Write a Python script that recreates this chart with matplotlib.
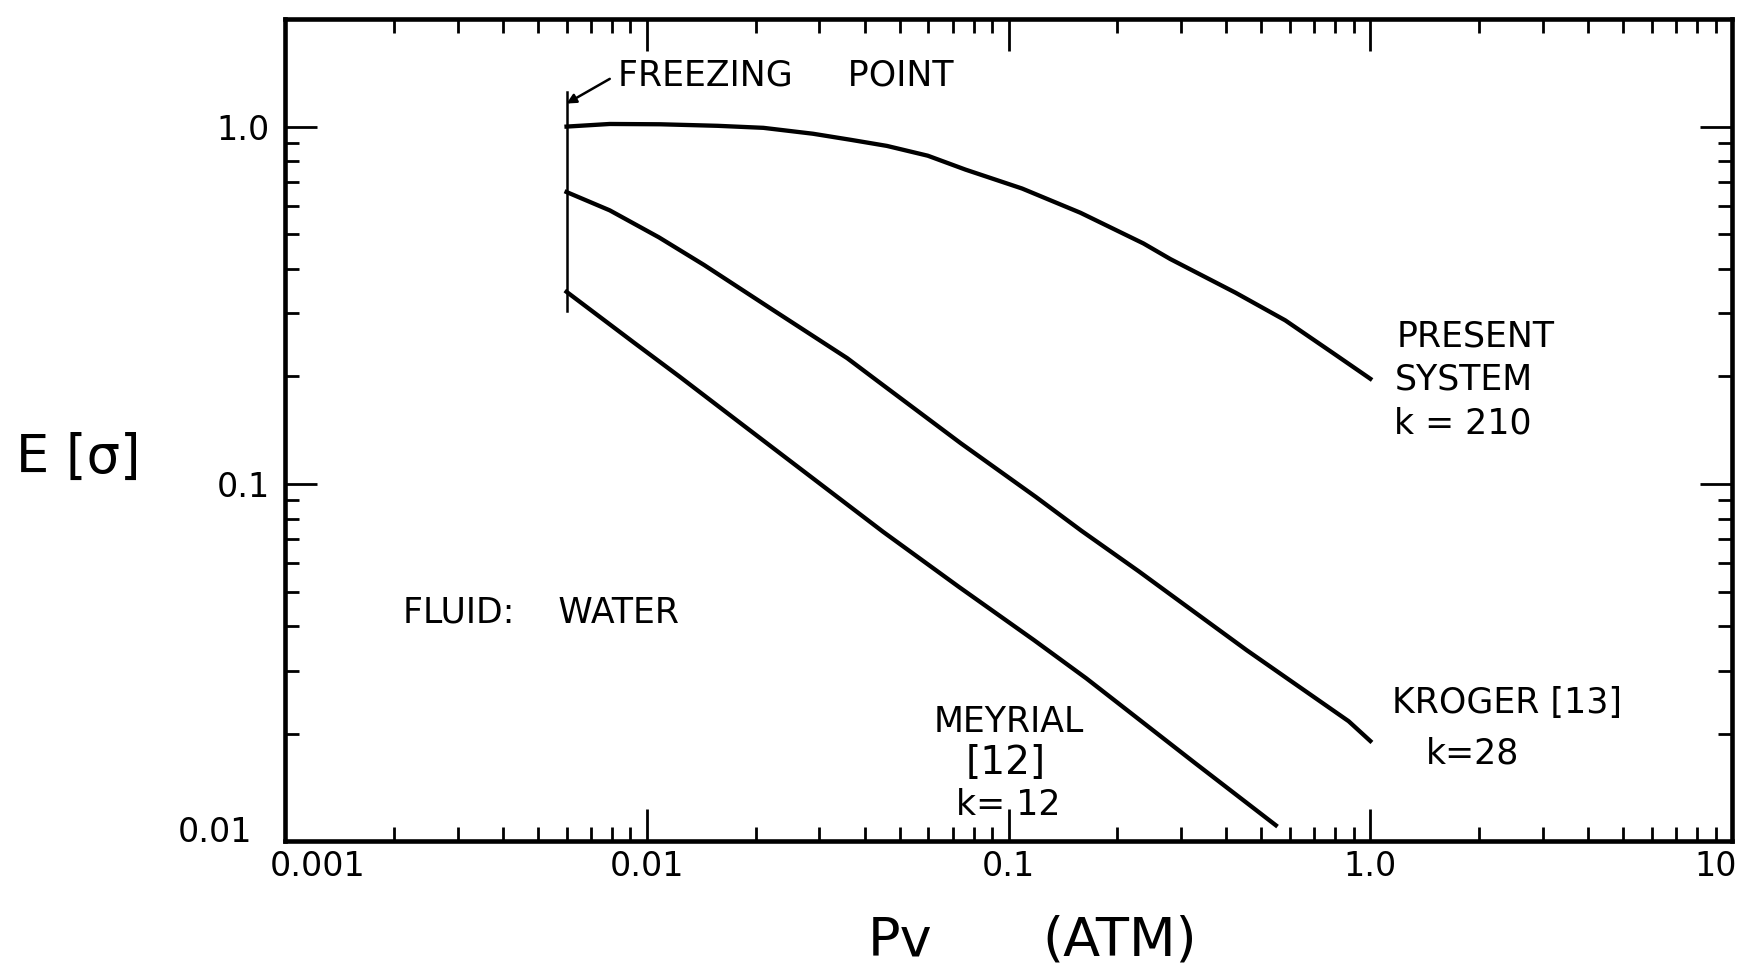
import matplotlib.pyplot as plt
from matplotlib.transforms import ScaledTranslation

# vapour pressure Pv (atm) and E along each curve
pv_present = [0.006, 0.0079, 0.0109, 0.0157, 0.021, 0.0288, 0.0367, 0.0461, 0.0598, 0.076,
              0.109, 0.158, 0.236, 0.28, 0.424, 0.582, 0.796, 1.0]
e_present = [1.0, 1.017, 1.015, 1.005, 0.992, 0.955, 0.918, 0.883, 0.829, 0.758,
             0.671, 0.574, 0.471, 0.426, 0.343, 0.287, 0.231, 0.197]

pv_kroger = [0.006, 0.0079, 0.0108, 0.0144, 0.0222, 0.0358, 0.0435, 0.0738, 0.119, 0.159,
             0.229, 0.298, 0.455, 0.871, 1.0]
e_kroger = [0.656, 0.583, 0.49, 0.41, 0.308, 0.225, 0.194, 0.130, 0.092, 0.074,
            0.057, 0.0469, 0.0343, 0.0217, 0.0191]

pv_meyrial = [0.006, 0.0092, 0.0123, 0.018, 0.045, 0.0728, 0.1175, 0.164, 0.327, 0.548]
e_meyrial = [0.345, 0.249, 0.2, 0.149, 0.0735, 0.0516, 0.0366, 0.0286, 0.0166, 0.0111]

# freezing point of water
pv_freeze = 0.006
e_freeze = [0.305, 1.25]

xticks = [0.001, 0.01, 0.1, 1.0, 10]
xticklabels = ['0.001', '0.01', '0.1', '1.0', '10']
yticks = [0.01, 0.1, 1.0]
yticklabels = ['0.01', '0.1', '1.0']

plt.rcParams['font.family'] = ['DejaVu Sans']

fig = plt.figure(figsize=(17.38, 9.64), dpi=100)
ax = fig.add_axes([0.164, 0.1271, 0.8326, 0.8532])
ax.set_xscale('log')
ax.set_yscale('log')
ax.set_xlim(0.001, 10)
ax.set_ylim(0.01, 2.0)

lw = 3.1
ax.plot(pv_present, e_present, c='k', lw=lw)
ax.plot(pv_kroger, e_kroger, c='k', lw=lw)
ax.plot(pv_meyrial, e_meyrial, c='k', lw=lw)
ax.plot([pv_freeze, pv_freeze], e_freeze, c='k', lw=1.8)

ax.annotate('', xy=(pv_freeze, 1.16), xytext=(0.0079, 1.36),
            arrowprops=dict(arrowstyle='-|>', color='k', lw=1.8,
                            mutation_scale=14, shrinkA=0, shrinkB=0))

fs = 25
ax.text(0.0083, 1.394, 'FREEZING     POINT', fontsize=fs, va='center', ha='left')
ax.text(1.18, 0.258, 'PRESENT', fontsize=fs, va='center', ha='left')
ax.text(1.17, 0.1955, 'SYSTEM', fontsize=fs, va='center', ha='left')
ax.text(1.16, 0.148, 'k = 210', fontsize=fs, va='center', ha='left')
ax.text(1.149, 0.0244, 'KROGER [13]', fontsize=fs, va='center', ha='left')
ax.text(1.426, 0.01767, 'k=28', fontsize=fs, va='center', ha='left')
ax.text(0.1, 0.0216, 'MEYRIAL', fontsize=fs, va='center', ha='center')
ax.text(0.098, 0.01655, '[12]', fontsize=fs + 3, va='center', ha='center')
ax.text(0.1, 0.01264, 'k= 12', fontsize=fs, va='center', ha='center')
ax.text(0.00212, 0.0436, 'FLUID:    WATER', fontsize=fs, va='center', ha='left')

# axes frame and ticks
for s in ax.spines.values():
    s.set_linewidth(3.3)
ax.set_xticks(xticks)
ax.set_xticklabels(xticklabels)
ax.set_yticks(yticks)
ax.set_yticklabels(yticklabels)
ax.tick_params(which='both', direction='in', top=True, right=True, width=2, labelsize=24)
ax.tick_params(which='major', length=23)
ax.tick_params(which='minor', length=10)
ax.tick_params(axis='x', pad=6)
ax.tick_params(axis='y', pad=11)

# nudge the end labels
xl = ax.get_xticklabels()
xl[0].set_transform(xl[0].get_transform() + ScaledTranslation(0.33, 0, fig.dpi_scale_trans))
xl[-1].set_ha('right')
xl[-1].set_transform(xl[-1].get_transform() + ScaledTranslation(0.05, 0, fig.dpi_scale_trans))
yl = ax.get_yticklabels()
yl[0].set_transform(yl[0].get_transform() + ScaledTranslation(-0.18, 0.12, fig.dpi_scale_trans))

fig.text(16 / 1738, 1 - 458 / 964, 'E [σ]', fontsize=38, va='center', ha='left')
fig.text(868 / 1738, 1 - 940 / 964, 'Pv', fontsize=39, va='center', ha='left')
fig.text(1042 / 1738, 1 - 940 / 964, '(ATM)', fontsize=39, va='center', ha='left')

fig.savefig('out.png', dpi=100, facecolor='white')
